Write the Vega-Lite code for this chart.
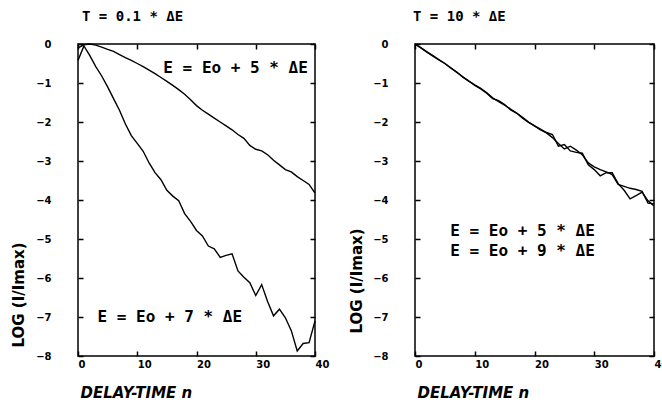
{
  "$schema": "https://vega.github.io/schema/vega-lite/v6.json",
  "background": "white",
  "padding": {"left": 10, "top": 9, "right": 0, "bottom": 0},
  "config": {
    "font": "DejaVu Sans",
    "view": {"stroke": "black", "strokeWidth": 1.5},
    "axis": {
      "grid": false, "domain": false, "tickColor": "black", "tickSize": -5, "tickWidth": 1.5, "labelOverlap": false,
      "labelColor": "black", "labelFont": "DejaVu Sans", "labelFontWeight": "bold", "labelFontSize": 10,
      "titleColor": "black", "titleFont": "DejaVu Sans", "titleFontWeight": "bold", "titleFontSize": 15
    },
    "title": {"color": "black", "font": "DejaVu Sans Mono", "fontWeight": "bold", "fontSize": 14}
  },
  "datasets": {
    "left": [
      {"series": "E5", "n": 0, "v": -0.1}, {"series": "E5", "n": 1, "v": -0.02}, {"series": "E5", "n": 2, "v": 0}, {"series": "E5", "n": 3, "v": -0.03},
      {"series": "E5", "n": 4, "v": -0.08}, {"series": "E5", "n": 5, "v": -0.14}, {"series": "E5", "n": 6, "v": -0.19}, {"series": "E5", "n": 7, "v": -0.27},
      {"series": "E5", "n": 8, "v": -0.35}, {"series": "E5", "n": 9, "v": -0.42}, {"series": "E5", "n": 10, "v": -0.5}, {"series": "E5", "n": 11, "v": -0.58},
      {"series": "E5", "n": 12, "v": -0.67}, {"series": "E5", "n": 13, "v": -0.76}, {"series": "E5", "n": 14, "v": -0.86}, {"series": "E5", "n": 15, "v": -0.96},
      {"series": "E5", "n": 16, "v": -1.06}, {"series": "E5", "n": 17, "v": -1.17}, {"series": "E5", "n": 18, "v": -1.29}, {"series": "E5", "n": 19, "v": -1.43},
      {"series": "E5", "n": 20, "v": -1.58}, {"series": "E5", "n": 21, "v": -1.7}, {"series": "E5", "n": 22, "v": -1.8}, {"series": "E5", "n": 23, "v": -1.9},
      {"series": "E5", "n": 24, "v": -2.0}, {"series": "E5", "n": 25, "v": -2.1}, {"series": "E5", "n": 26, "v": -2.2}, {"series": "E5", "n": 27, "v": -2.32},
      {"series": "E5", "n": 28, "v": -2.42}, {"series": "E5", "n": 29, "v": -2.6}, {"series": "E5", "n": 30, "v": -2.7}, {"series": "E5", "n": 31, "v": -2.74},
      {"series": "E5", "n": 32, "v": -2.84}, {"series": "E5", "n": 33, "v": -2.98}, {"series": "E5", "n": 34, "v": -3.1}, {"series": "E5", "n": 35, "v": -3.22},
      {"series": "E5", "n": 36, "v": -3.28}, {"series": "E5", "n": 37, "v": -3.4}, {"series": "E5", "n": 38, "v": -3.5}, {"series": "E5", "n": 39, "v": -3.6},
      {"series": "E5", "n": 40, "v": -3.82},
      {"series": "E7", "n": 0, "v": -0.42}, {"series": "E7", "n": 1, "v": -0.05}, {"series": "E7", "n": 2, "v": -0.3}, {"series": "E7", "n": 3, "v": -0.58},
      {"series": "E7", "n": 4, "v": -0.82}, {"series": "E7", "n": 5, "v": -1.1}, {"series": "E7", "n": 6, "v": -1.4}, {"series": "E7", "n": 7, "v": -1.7},
      {"series": "E7", "n": 8, "v": -2.05}, {"series": "E7", "n": 9, "v": -2.35}, {"series": "E7", "n": 10, "v": -2.55}, {"series": "E7", "n": 11, "v": -2.75},
      {"series": "E7", "n": 12, "v": -3.05}, {"series": "E7", "n": 13, "v": -3.3}, {"series": "E7", "n": 14, "v": -3.48}, {"series": "E7", "n": 15, "v": -3.75},
      {"series": "E7", "n": 16, "v": -3.9}, {"series": "E7", "n": 17, "v": -4.02}, {"series": "E7", "n": 18, "v": -4.35}, {"series": "E7", "n": 19, "v": -4.55},
      {"series": "E7", "n": 20, "v": -4.78}, {"series": "E7", "n": 21, "v": -4.92}, {"series": "E7", "n": 22, "v": -5.18}, {"series": "E7", "n": 23, "v": -5.25},
      {"series": "E7", "n": 24, "v": -5.47}, {"series": "E7", "n": 25, "v": -5.42}, {"series": "E7", "n": 26, "v": -5.38}, {"series": "E7", "n": 27, "v": -5.82},
      {"series": "E7", "n": 28, "v": -5.98}, {"series": "E7", "n": 29, "v": -6.12}, {"series": "E7", "n": 30, "v": -6.45}, {"series": "E7", "n": 31, "v": -6.17},
      {"series": "E7", "n": 32, "v": -6.6}, {"series": "E7", "n": 33, "v": -6.97}, {"series": "E7", "n": 34, "v": -6.8}, {"series": "E7", "n": 35, "v": -7.02},
      {"series": "E7", "n": 36, "v": -7.35}, {"series": "E7", "n": 37, "v": -7.87}, {"series": "E7", "n": 38, "v": -7.68}, {"series": "E7", "n": 39, "v": -7.66},
      {"series": "E7", "n": 40, "v": -7.1}
    ],
    "right": [
      {"series": "E5", "n": 0, "v": 0}, {"series": "E5", "n": 1, "v": -0.1}, {"series": "E5", "n": 2, "v": -0.2}, {"series": "E5", "n": 3, "v": -0.3},
      {"series": "E5", "n": 4, "v": -0.4}, {"series": "E5", "n": 5, "v": -0.5}, {"series": "E5", "n": 6, "v": -0.61}, {"series": "E5", "n": 7, "v": -0.73},
      {"series": "E5", "n": 8, "v": -0.84}, {"series": "E5", "n": 9, "v": -0.95}, {"series": "E5", "n": 10, "v": -1.05}, {"series": "E5", "n": 11, "v": -1.14},
      {"series": "E5", "n": 12, "v": -1.25}, {"series": "E5", "n": 13, "v": -1.38}, {"series": "E5", "n": 14, "v": -1.48}, {"series": "E5", "n": 15, "v": -1.57},
      {"series": "E5", "n": 16, "v": -1.67}, {"series": "E5", "n": 17, "v": -1.77}, {"series": "E5", "n": 18, "v": -1.88}, {"series": "E5", "n": 19, "v": -2.0},
      {"series": "E5", "n": 20, "v": -2.1}, {"series": "E5", "n": 21, "v": -2.2}, {"series": "E5", "n": 22, "v": -2.28}, {"series": "E5", "n": 23, "v": -2.4},
      {"series": "E5", "n": 24, "v": -2.55}, {"series": "E5", "n": 25, "v": -2.69}, {"series": "E5", "n": 26, "v": -2.62}, {"series": "E5", "n": 27, "v": -2.72},
      {"series": "E5", "n": 28, "v": -2.84}, {"series": "E5", "n": 29, "v": -3.05}, {"series": "E5", "n": 30, "v": -3.15}, {"series": "E5", "n": 31, "v": -3.22},
      {"series": "E5", "n": 32, "v": -3.28}, {"series": "E5", "n": 33, "v": -3.35}, {"series": "E5", "n": 34, "v": -3.6}, {"series": "E5", "n": 35, "v": -3.65},
      {"series": "E5", "n": 36, "v": -3.7}, {"series": "E5", "n": 37, "v": -3.73}, {"series": "E5", "n": 38, "v": -3.78}, {"series": "E5", "n": 39, "v": -4.08},
      {"series": "E5", "n": 40, "v": -4.1},
      {"series": "E9", "n": 0, "v": 0}, {"series": "E9", "n": 1, "v": -0.1}, {"series": "E9", "n": 2, "v": -0.21}, {"series": "E9", "n": 3, "v": -0.31},
      {"series": "E9", "n": 4, "v": -0.41}, {"series": "E9", "n": 5, "v": -0.5}, {"series": "E9", "n": 6, "v": -0.62}, {"series": "E9", "n": 7, "v": -0.72},
      {"series": "E9", "n": 8, "v": -0.85}, {"series": "E9", "n": 9, "v": -0.95}, {"series": "E9", "n": 10, "v": -1.06}, {"series": "E9", "n": 11, "v": -1.15},
      {"series": "E9", "n": 12, "v": -1.26}, {"series": "E9", "n": 13, "v": -1.4}, {"series": "E9", "n": 14, "v": -1.45}, {"series": "E9", "n": 15, "v": -1.55},
      {"series": "E9", "n": 16, "v": -1.69}, {"series": "E9", "n": 17, "v": -1.77}, {"series": "E9", "n": 18, "v": -1.9}, {"series": "E9", "n": 19, "v": -2.01},
      {"series": "E9", "n": 20, "v": -2.1}, {"series": "E9", "n": 21, "v": -2.18}, {"series": "E9", "n": 22, "v": -2.27}, {"series": "E9", "n": 23, "v": -2.32},
      {"series": "E9", "n": 24, "v": -2.62}, {"series": "E9", "n": 25, "v": -2.58}, {"series": "E9", "n": 26, "v": -2.74}, {"series": "E9", "n": 27, "v": -2.78},
      {"series": "E9", "n": 28, "v": -2.8}, {"series": "E9", "n": 29, "v": -3.1}, {"series": "E9", "n": 30, "v": -3.22}, {"series": "E9", "n": 31, "v": -3.38},
      {"series": "E9", "n": 32, "v": -3.3}, {"series": "E9", "n": 33, "v": -3.3}, {"series": "E9", "n": 34, "v": -3.58}, {"series": "E9", "n": 35, "v": -3.75},
      {"series": "E9", "n": 36, "v": -3.97}, {"series": "E9", "n": 37, "v": -3.89}, {"series": "E9", "n": 38, "v": -3.8}, {"series": "E9", "n": 39, "v": -4.02},
      {"series": "E9", "n": 40, "v": -4.15}
    ],
    "leftLabels": [
      {"n": 26.6, "v": -0.62, "label": "E = Eo + 5 * ΔE"},
      {"n": 15.5, "v": -7.0, "label": "E = Eo + 7 * ΔE"}
    ],
    "rightLabels": [
      {"n": 18.0, "v": -4.8, "label": "E = Eo + 5 * ΔE"},
      {"n": 18.0, "v": -5.3, "label": "E = Eo + 9 * ΔE"}
    ]
  },
  "spacing": 100,
  "bounds": "flush",
  "hconcat": [
    {
      "width": 237, "height": 312,
      "title": {"text": "T = 0.1 * ΔE", "anchor": "start", "frame": "group", "offset": 15, "dx": 4},
      "resolve": {"axis": {"x": "independent", "y": "independent"}},
      "layer": [
        {
          "data": {"name": "left"},
          "mark": {"type": "line", "color": "black", "strokeWidth": 1.4},
          "encoding": {
            "x": {"field": "n", "type": "quantitative", "scale": {"domain": [0, 40], "nice": false},
              "axis": {"values": [0, 10, 20, 30, 40], "labelAlign": "left", "labelPadding": 8,
                "title": "DELAY-TIME n", "titleFontStyle": "italic", "titleAnchor": "start", "titleAlign": "left", "titleX": 2, "titleY": 36, "titleBaseline": "middle"}},
            "y": {"field": "v", "type": "quantitative", "scale": {"domain": [-8, 0], "nice": false},
              "axis": {"values": [0, -1, -2, -3, -4, -5, -6, -7, -8], "format": "d", "labelPadding": 32,
                "title": "LOG (I/Imax)", "titleAngle": 270, "titleAlign": "left", "titleBaseline": "middle", "titleX": -60, "titleY": 303}},
            "detail": {"field": "series"}
          }
        },
        {
          "data": {"name": "left"},
          "mark": {"type": "line", "opacity": 0},
          "encoding": {
            "x": {"field": "n", "type": "quantitative", "scale": {"domain": [0, 40], "nice": false},
              "axis": {"orient": "top", "values": [0, 10, 20, 30, 40], "labels": false, "title": null}},
            "y": {"field": "v", "type": "quantitative", "scale": {"domain": [-8, 0], "nice": false},
              "axis": {"orient": "right", "values": [0, -1, -2, -3, -4, -5, -6, -7, -8], "labels": false, "title": null}},
            "detail": {"field": "series"}
          }
        },
        {
          "data": {"name": "leftLabels"},
          "mark": {"type": "text", "font": "DejaVu Sans Mono", "fontWeight": "bold", "fontSize": 16, "color": "black"},
          "encoding": {
            "x": {"field": "n", "type": "quantitative", "axis": null},
            "y": {"field": "v", "type": "quantitative", "axis": null},
            "text": {"field": "label"}
          }
        }
      ]
    },
    {
      "width": 239, "height": 312,
      "title": {"text": "T = 10 * ΔE", "anchor": "start", "frame": "group", "offset": 15, "dx": -2},
      "resolve": {"axis": {"x": "independent", "y": "independent"}},
      "layer": [
        {
          "data": {"name": "right"},
          "mark": {"type": "line", "color": "black", "strokeWidth": 1.4},
          "encoding": {
            "x": {"field": "n", "type": "quantitative", "scale": {"domain": [0, 40], "nice": false},
              "axis": {"values": [0, 10, 20, 30, 40], "labelAlign": "left", "labelPadding": 8,
                "title": "DELAY-TIME n", "titleFontStyle": "italic", "titleAnchor": "start", "titleAlign": "left", "titleX": 2, "titleY": 36, "titleBaseline": "middle"}},
            "y": {"field": "v", "type": "quantitative", "scale": {"domain": [-8, 0], "nice": false},
              "axis": {"values": [0, -1, -2, -3, -4, -5, -6, -7, -8], "format": "d", "labelPadding": 32,
                "title": "LOG (I/Imax)", "titleAngle": 270, "titleAlign": "left", "titleBaseline": "middle", "titleX": -59, "titleY": 289}},
            "detail": {"field": "series"}
          }
        },
        {
          "data": {"name": "right"},
          "mark": {"type": "line", "opacity": 0},
          "encoding": {
            "x": {"field": "n", "type": "quantitative", "scale": {"domain": [0, 40], "nice": false},
              "axis": {"orient": "top", "values": [0, 10, 20, 30, 40], "labels": false, "title": null}},
            "y": {"field": "v", "type": "quantitative", "scale": {"domain": [-8, 0], "nice": false},
              "axis": {"orient": "right", "values": [0, -1, -2, -3, -4, -5, -6, -7, -8], "labels": false, "title": null}},
            "detail": {"field": "series"}
          }
        },
        {
          "data": {"name": "rightLabels"},
          "mark": {"type": "text", "font": "DejaVu Sans Mono", "fontWeight": "bold", "fontSize": 16, "color": "black"},
          "encoding": {
            "x": {"field": "n", "type": "quantitative", "axis": null},
            "y": {"field": "v", "type": "quantitative", "axis": null},
            "text": {"field": "label"}
          }
        }
      ]
    }
  ]
}
